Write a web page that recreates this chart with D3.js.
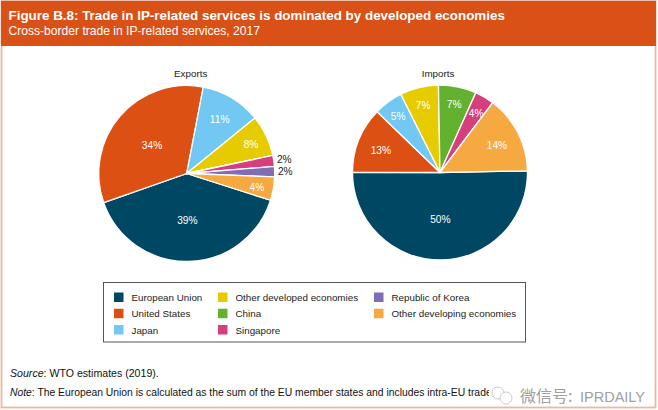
<!DOCTYPE html>
<html>
<head>
<meta charset="utf-8">
<script src="https://d3js.org/d3.v7.min.js"></script>
<style>
html, body { margin: 0; padding: 0; background: #fff; }
svg { display: block; }
text { font-family: "Liberation Sans", Arial, sans-serif; }
</style>
</head>
<body>
<script>
var titleText = "Figure B.8: Trade in IP-related services is dominated by developed economies"
var subtitleText = "Cross-border trade in IP-related services, 2017"

var categories = ["European Union", "United States", "Japan", "Other developed economies",
    "China", "Singapore", "Republic of Korea", "Other developing economies"]
var colors = ["#004764", "#DC5014", "#72C8F2", "#E5CB00", "#62B22F", "#D53F7C", "#7F6DB5", "#F7A941"]

// shares; the printed labels are kept apart because the source rounds oddly
var exportValues = [39.7, 33.4, 11.1, 7.6, 0, 2.0, 1.9, 4.3]
var exportLabels = ["39%", "34%", "11%", "8%", "", "2%", "2%", "4%"]
var importValues = [50.4, 12.2, 5.4, 7.1, 7.0, 3.6, 0, 14.4]
var importLabels = ["50%", "13%", "5%", "7%", "7%", "4%", "", "14%"]

var width = 658, height = 410

var svg = d3.select("body").append("svg")
    .attr("width", width).attr("height", height)

// frame and header
svg.append("rect").attr("x", 1.5).attr("y", 1).attr("width", 654).attr("height", 406.5)
    .attr("fill", "#fff").attr("stroke", "#F0B79F").attr("stroke-width", 1.8)
svg.append("rect").attr("x", 1).attr("y", 1).attr("width", 655).attr("height", 45)
    .attr("fill", "#D95117")

svg.append("text").attr("x", 8.5).attr("y", 20)
    .attr("fill", "#fff").attr("font-size", 13.4).attr("font-weight", "bold")
    .text(titleText)
svg.append("text").attr("x", 8.5).attr("y", 35)
    .attr("fill", "#fff").attr("font-size", 12.1)
    .text(subtitleText)

function labelRadius(v, r){
    if (v < 3) return r * 1.12
    if (v < 10) return r * 0.81
    if (v < 20) return r * 0.73
    return r * 0.52
}

function drawPie(name, values, labels, cx, cy, r, startDeg, nameX){
    var start = startDeg * Math.PI / 180
    var pie = d3.pie().sort(null).startAngle(start).endAngle(start + 2 * Math.PI)
    var arc = d3.arc().innerRadius(0).outerRadius(r)
    var slices = pie(values)

    var g = svg.append("g").attr("transform", "translate(" + cx + "," + cy + ")")

    g.selectAll("path").data(slices).enter().append("path")
        .attr("d", arc)
        .attr("fill", function(d, i){ return colors[i] })
        .attr("stroke", "#fff").attr("stroke-width", 1.3)

    g.selectAll("text.pct").data(slices).enter().append("text")
        .attr("class", "pct")
        .attr("transform", function(d){
            var a = (d.startAngle + d.endAngle) / 2
            var lr = labelRadius(d.value, r)
            return "translate(" + (Math.sin(a) * lr) + "," + (-Math.cos(a) * lr) + ")"
        })
        .attr("text-anchor", "middle").attr("dy", function(d){ return d.value < 3 ? "0.35em" : "0.5em" })
        .attr("font-size", 10.2)
        .attr("fill", function(d){ return d.value < 3 ? "#222" : "#fff" })
        .text(function(d, i){ return labels[i] })

    svg.append("text").attr("x", nameX).attr("y", 76.5)
        .attr("text-anchor", "middle").attr("font-size", 9.8).attr("fill", "#222")
        .text(name)
}

drawPie("Exports", exportValues, exportLabels, 186.7, 173.5, 88, 107.7, 190.7)
drawPie("Imports", importValues, importLabels, 440, 172.5, 87.5, 88.9, 438)

// legend
svg.append("rect").attr("x", 103.5).attr("y", 282.5).attr("width", 422).attr("height", 59.5)
    .attr("fill", "#fff").attr("stroke", "#555").attr("stroke-width", 1)

var legendColX = [114, 218, 374]
var legendRows = d3.scalePoint().domain([0, 1, 2]).range([297.5, 330])
var legendSlots = [[0, 0], [0, 1], [0, 2], [1, 0], [1, 1], [1, 2], [2, 0], [2, 1]]

var legend = svg.selectAll("g.legend-item").data(categories).enter().append("g")
    .attr("class", "legend-item")
    .attr("transform", function(d, i){
        return "translate(" + legendColX[legendSlots[i][0]] + "," + legendRows(legendSlots[i][1]) + ")"
    })
legend.append("rect").attr("x", 0).attr("y", -5).attr("width", 9.5).attr("height", 9.5)
    .attr("fill", function(d, i){ return colors[i] })
legend.append("text").attr("x", 17.5).attr("y", 3.5)
    .attr("font-size", 9.8).attr("fill", "#222")
    .text(function(d){ return d })

// footnotes
var source = svg.append("text").attr("x", 10).attr("y", 377).attr("font-size", 10.6).attr("fill", "#111")
source.append("tspan").attr("font-style", "italic").text("Source")
source.append("tspan").text(": WTO estimates (2019).")
var note = svg.append("text").attr("x", 10).attr("y", 395.5).attr("font-size", 10.35).attr("fill", "#111")
note.append("tspan").attr("font-style", "italic").text("Note")
note.append("tspan").text(": The European Union is calculated as the sum of the EU member states and includes intra-EU trade.")

// watermark sits over the end of the note
var mark = svg.append("g")
mark.append("rect").attr("x", 489).attr("y", 384).attr("width", 163).attr("height", 22)
    .attr("fill", "#fff")
mark.append("circle").attr("cx", 498).attr("cy", 393).attr("r", 6)
    .attr("fill", "#fff").attr("stroke", "#ccc").attr("stroke-width", 1)
mark.append("circle").attr("cx", 506).attr("cy", 398).attr("r", 6)
    .attr("fill", "#fff").attr("stroke", "#ccc").attr("stroke-width", 1)
mark.append("text").attr("x", 520).attr("y", 401.5)
    .attr("font-size", 16).attr("fill", "#a0a0a0")
    .attr("style", "font-family:'Noto Sans CJK SC','Liberation Sans',sans-serif")
    .text("微信号:")
mark.append("text").attr("x", 580).attr("y", 401.5)
    .attr("font-size", 14.5).attr("fill", "#a0a0a0")
    .text("IPRDAILY")
</script>
</body>
</html>
